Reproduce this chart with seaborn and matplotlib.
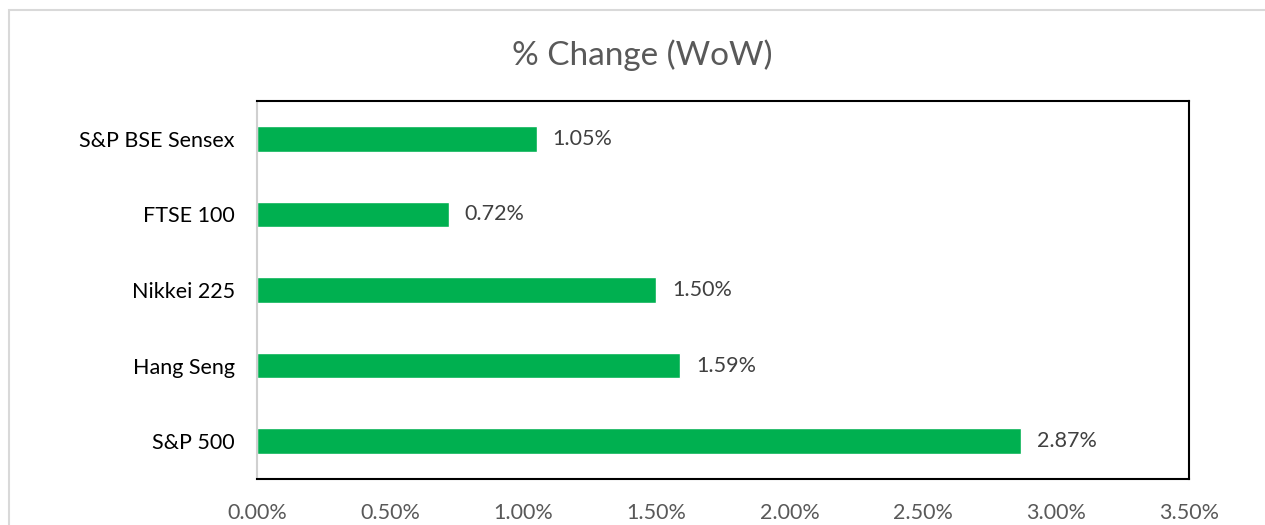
import matplotlib
matplotlib.use("Agg")
import matplotlib.pyplot as plt
import seaborn as sns
import pandas as pd
from matplotlib.patches import Rectangle
from matplotlib.ticker import FuncFormatter

categories = ["S&P BSE Sensex", "FTSE 100", "Nikkei 225", "Hang Seng", "S&P 500"]
values = [1.05, 0.72, 1.50, 1.59, 2.87]
xticks = [0.0, 0.5, 1.0, 1.5, 2.0, 2.5, 3.0, 3.5]

sns.set_theme(style="white")
plt.rcParams["font.family"] = ["Lato", "DejaVu Sans"]

df = pd.DataFrame({"index": categories, "change": values})

fig = plt.figure(figsize=(12.65, 5.25), dpi=100)
fig.patches.append(Rectangle((9 / 1265, -0.1), 1.2, 1 - 10 / 525 + 0.1,
                             transform=fig.transFigure, fill=False,
                             edgecolor="#d9d9d9", linewidth=1.5))
ax = fig.add_axes([257 / 1265, 1 - 479 / 525, (1189 - 257) / 1265, (479 - 101) / 525])

sns.barplot(data=df, x="change", y="index", order=categories, color="#00B050",
            saturation=1, width=0.34, ax=ax)

ax.set_xlim(0, 3.5)
ax.set_ylim(4.5, -0.5)
ax.set_xticks(xticks)
ax.xaxis.set_major_formatter(FuncFormatter(lambda v, p: f"{v:.2f}%"))
ax.tick_params(axis="x", length=0, pad=17, labelsize=15.5, labelcolor="#595959")
ax.tick_params(axis="y", length=0, pad=16, labelsize=15.5, labelcolor="#000000")
ax.set_xlabel("")
ax.set_ylabel("")

for s in ["top", "right", "bottom"]:
    ax.spines[s].set_color("#000000")
    ax.spines[s].set_linewidth(1.5)
ax.spines["left"].set_color("#d0d0d0")
ax.spines["left"].set_linewidth(1.5)

for i, v in enumerate(values):
    ax.annotate(f"{v:.2f}%", xy=(v, i), xytext=(11.5, 0), textcoords="offset points",
                ha="left", va="center", fontsize=15.5, color="#404040")

fig.text(642 / 1265, 1 - 55 / 525, "% Change (WoW)", ha="center",
         va="center", fontsize=24, color="#595959")

fig.savefig("out.png", dpi=100)
